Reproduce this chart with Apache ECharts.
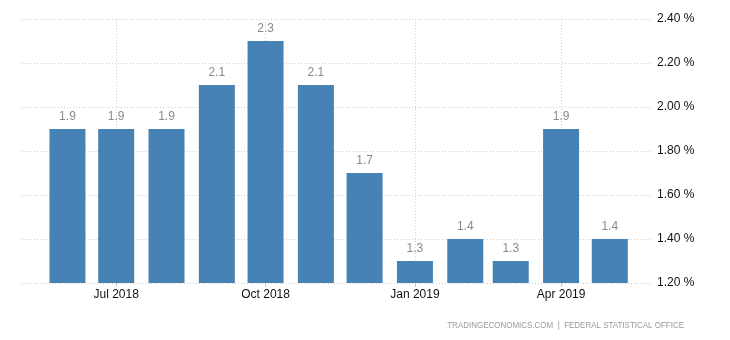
<!DOCTYPE html>
<html>
<head>
<meta charset="utf-8">
<script src="https://cdn.jsdelivr.net/npm/echarts@6/dist/echarts.min.js"></script>
<style>
  html, body { margin: 0; padding: 0; background: #fff; }
  #chart { width: 730px; height: 340px; }
</style>
</head>
<body>
<div id="chart"></div>
<script>
// Monthly annual rate, Jun 2018 – May 2019
const months = ['2018-06-01', '2018-07-01', '2018-08-01', '2018-09-01', '2018-10-01', '2018-11-01',
                '2018-12-01', '2019-01-01', '2019-02-01', '2019-03-01', '2019-04-01', '2019-05-01'];
const values = [1.9, 1.9, 1.9, 2.1, 2.3, 2.1, 1.7, 1.3, 1.4, 1.3, 1.9, 1.4];

// Quarterly axis labels
const tickDates = ['2018-07-01', '2018-10-01', '2019-01-01', '2019-04-01'];
const tickLabels = ['Jul 2018', 'Oct 2018', 'Jan 2019', 'Apr 2019'];

const yTicks = [1.2, 1.4, 1.6, 1.8, 2.0, 2.2, 2.4];

// Dates are placed on a numeric axis measured in days since the epoch
const DAY = 86400000;
const toDay = s => Math.round(new Date(s + 'T00:00:00Z').getTime() / DAY);
const tickDays = tickDates.map(toDay);

const chart = echarts.init(document.getElementById('chart'), null, { renderer: 'canvas' });

chart.setOption({
  animation: false,
  backgroundColor: '#ffffff',
  textStyle: { fontFamily: 'Liberation Sans, Arial, sans-serif' },
  grid: { left: 22, right: 78, top: 19, bottom: 57 },
  xAxis: {
    type: 'value',
    min: toDay('2018-05-04'),
    max: toDay('2019-05-27'),
    axisLine: { show: false },
    axisTick: {
      show: true,
      length: 4,
      customValues: tickDays,
      lineStyle: { color: '#c8c8c8' }
    },
    axisLabel: {
      customValues: tickDays,
      color: '#111',
      fontSize: 12,
      margin: 6,
      formatter: function (v) {
        const i = tickDays.indexOf(v);
        return i >= 0 ? tickLabels[i] : '';
      }
    },
    splitLine: {
      show: true,
      lineStyle: { color: '#cfcfcf', type: [1, 2], width: 1 }
    }
  },
  yAxis: {
    type: 'value',
    position: 'right',
    min: yTicks[0],
    max: yTicks[yTicks.length - 1],
    interval: 0.2,
    axisLine: { show: false },
    axisTick: { show: false },
    axisLabel: {
      color: '#111',
      fontSize: 12,
      margin: 5,
      formatter: v => v.toFixed(2) + ' %'
    },
    splitLine: {
      show: true,
      lineStyle: { color: '#cfcfcf', type: [1, 2], width: 1 }
    }
  },
  series: [{
    type: 'bar',
    barWidth: 36,
    data: months.map((m, i) => [toDay(m), values[i]]),
    itemStyle: { color: '#4682b4' },
    label: {
      show: true,
      position: 'top',
      distance: 6,
      color: '#8a8a8a',
      fontSize: 12,
      formatter: p => p.value[1].toFixed(1)
    }
  }],
  graphic: [{
    type: 'text',
    x: 684,
    y: 325,
    originX: 0,
    originY: 0,
    scaleX: 0.84,
    style: {
      text: 'TRADINGECONOMICS.COM  |  FEDERAL STATISTICAL OFFICE',
      fill: '#999',
      align: 'right',
      verticalAlign: 'middle',
      font: '9.5px "Liberation Sans", Arial, sans-serif'
    }
  }]
});
</script>
</body>
</html>
